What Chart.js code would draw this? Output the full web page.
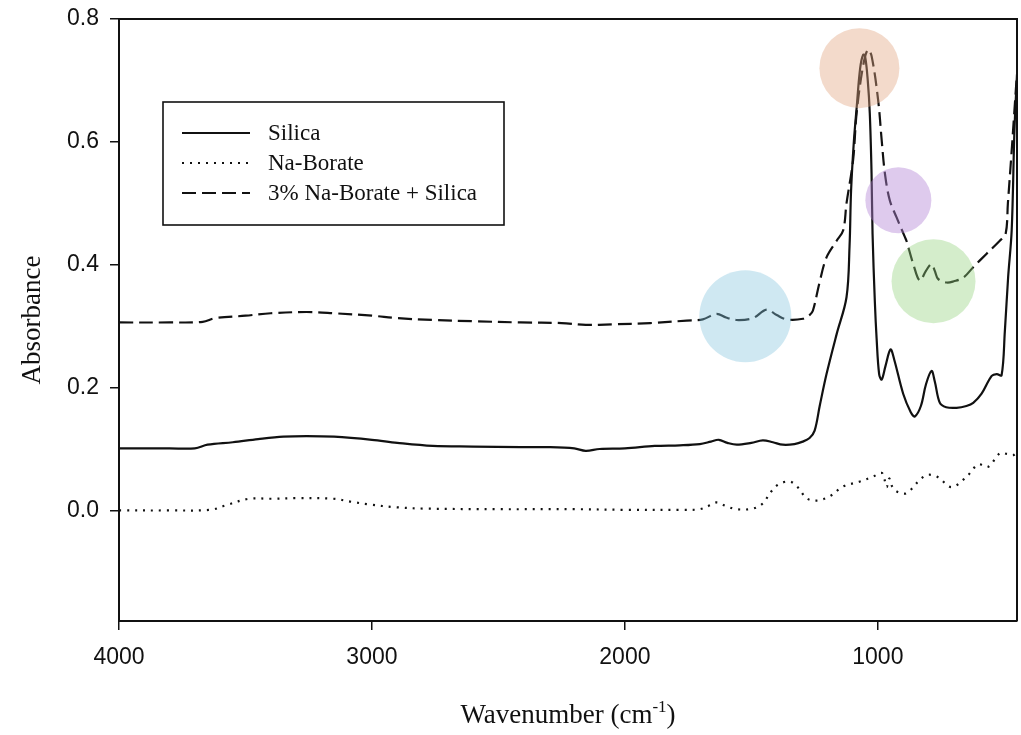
<!DOCTYPE html>
<html>
<head>
<meta charset="utf-8">
<title>FTIR spectra</title>
<script src="https://cdn.jsdelivr.net/npm/chart.js@4.4.1/dist/chart.umd.min.js"></script>
<style>
  html, body { margin: 0; padding: 0; background: #fff; }
  #wrap { width: 1021px; height: 735px; position: relative; }
</style>
</head>
<body>
<div id="wrap"><canvas id="c"></canvas></div>
<script>
// Series labels
const seriesNames = ['Silica', 'Na-Borate', '3% Na-Borate + Silica'];

// Silica spectrum (wavenumber, absorbance)
const silicaWn = [4000, 3800, 3700, 3650, 3550, 3450, 3350, 3259, 3150, 3000, 2900, 2760, 2600, 2412, 2300, 2200, 2155, 2100, 2000, 1882, 1783, 1704, 1660, 1629, 1595, 1558, 1500, 1455, 1415, 1376, 1330, 1297, 1270, 1250, 1230, 1203, 1163, 1124, 1112, 1106, 1095, 1084, 1070, 1058, 1050, 1040, 1032, 1025, 1021, 1012, 1005, 995, 985, 970, 950, 935, 900, 870, 854, 830, 810, 788, 775, 755, 730, 689, 650, 623, 590, 550, 530, 511, 498, 485, 471, 460, 450];
const silicaAbs = [0.101, 0.101, 0.101, 0.107, 0.111, 0.116, 0.120, 0.121, 0.120, 0.115, 0.110, 0.105, 0.104, 0.103, 0.103, 0.101, 0.097, 0.100, 0.101, 0.105, 0.106, 0.108, 0.112, 0.115, 0.110, 0.107, 0.110, 0.114, 0.111, 0.107, 0.108, 0.112, 0.118, 0.130, 0.170, 0.222, 0.287, 0.347, 0.430, 0.520, 0.600, 0.655, 0.720, 0.742, 0.738, 0.700, 0.647, 0.549, 0.450, 0.340, 0.280, 0.222, 0.213, 0.235, 0.262, 0.245, 0.190, 0.160, 0.153, 0.170, 0.205, 0.227, 0.210, 0.175, 0.168, 0.167, 0.170, 0.175, 0.190, 0.219, 0.222, 0.220, 0.292, 0.380, 0.456, 0.620, 0.710];

// Na-Borate spectrum
const borateWn = [4000, 3800, 3637, 3580, 3487, 3400, 3300, 3153, 3080, 3017, 2900, 2791, 2500, 2200, 2000, 1770, 1704, 1660, 1638, 1600, 1559, 1494, 1453, 1427, 1394, 1348, 1315, 1282, 1242, 1190, 1137, 1071, 1019, 985, 975, 965, 955, 945, 930, 905, 887, 860, 834, 801, 762, 709, 649, 603, 564, 518, 490, 465, 450];
const borateAbs = [0.000, 0.000, 0.001, 0.008, 0.019, 0.019, 0.020, 0.019, 0.014, 0.010, 0.005, 0.003, 0.002, 0.002, 0.001, 0.001, 0.002, 0.009, 0.013, 0.007, 0.002, 0.003, 0.012, 0.028, 0.042, 0.047, 0.037, 0.020, 0.016, 0.023, 0.039, 0.047, 0.055, 0.061, 0.052, 0.038, 0.052, 0.040, 0.032, 0.028, 0.028, 0.038, 0.050, 0.058, 0.054, 0.038, 0.055, 0.075, 0.071, 0.093, 0.092, 0.090, 0.095];

// 3% Na-Borate + Silica spectrum
const mixWn = [4000, 3800, 3669, 3620, 3500, 3400, 3259, 3150, 3000, 2900, 2760, 2600, 2412, 2250, 2155, 2050, 1900, 1756, 1692, 1638, 1600, 1559, 1494, 1440, 1400, 1361, 1296, 1270, 1257, 1229, 1203, 1163, 1137, 1124, 1098, 1084, 1060, 1040, 1025, 999, 985, 972, 953, 926, 893, 887, 860, 834, 810, 788, 775, 762, 728, 700, 662, 623, 570, 518, 495, 486, 472, 462, 452, 450];
const mixAbs = [0.306, 0.306, 0.307, 0.313, 0.317, 0.321, 0.323, 0.321, 0.317, 0.313, 0.310, 0.308, 0.306, 0.305, 0.302, 0.303, 0.305, 0.309, 0.311, 0.320, 0.314, 0.310, 0.313, 0.327, 0.318, 0.311, 0.312, 0.318, 0.325, 0.374, 0.412, 0.439, 0.456, 0.500, 0.570, 0.647, 0.720, 0.750, 0.740, 0.668, 0.603, 0.548, 0.505, 0.477, 0.445, 0.439, 0.401, 0.374, 0.390, 0.401, 0.390, 0.377, 0.371, 0.373, 0.379, 0.396, 0.418, 0.439, 0.450, 0.500, 0.580, 0.640, 0.700, 0.710];

// Axis ticks
const xTicks = [4000, 3000, 2000, 1000];
const yTicks = [0.0, 0.2, 0.4, 0.6, 0.8];

// Highlighted band regions (wavenumber, absorbance)
const bandWn = [1073, 919, 780, 1524];
const bandAbs = [0.72, 0.505, 0.373, 0.316];

const toPoints = (xs, ys) => xs.map((x, i) => ({ x: x, y: ys[i] }));

const lineStyles = [
  { dash: [], width: 2.2 },
  { dash: [2, 6], width: 2.2 },
  { dash: [14, 6], width: 2.2 }
];

const seriesData = [toPoints(silicaWn, silicaAbs), toPoints(borateWn, borateAbs), toPoints(mixWn, mixAbs)];

const datasets = seriesNames.map((name, i) => ({
  label: name,
  data: seriesData[i],
  borderColor: '#111',
  borderWidth: lineStyles[i].width,
  borderDash: lineStyles[i].dash,
  pointRadius: 0,
  fill: false,
  tension: 0.35,
  borderCapStyle: 'butt'
}));

const bandStyle = [
  { r: 40, color: 'rgba(225,164,128,0.41)' },
  { r: 33, color: 'rgba(179,133,214,0.43)' },
  { r: 42, color: 'rgba(145,209,120,0.39)' },
  { r: 46, color: 'rgba(132,197,222,0.39)' }
];

const serif = '"Liberation Serif", "Times New Roman", serif';

const decor = {
  id: 'decor',
  afterDatasetsDraw(chart) {
    const { ctx, chartArea, scales } = chart;
    ctx.save();
    // highlighted bands
    bandWn.forEach((wn, i) => {
      ctx.beginPath();
      ctx.arc(scales.x.getPixelForValue(wn), scales.y.getPixelForValue(bandAbs[i]), bandStyle[i].r, 0, Math.PI * 2);
      ctx.fillStyle = bandStyle[i].color;
      ctx.fill();
    });
    // top and right frame
    ctx.strokeStyle = '#111';
    ctx.lineWidth = 2;
    ctx.beginPath();
    ctx.moveTo(chartArea.left, chartArea.top);
    ctx.lineTo(chartArea.right, chartArea.top);
    ctx.lineTo(chartArea.right, chartArea.bottom);
    ctx.stroke();

    // legend box
    ctx.lineWidth = 1.6;
    ctx.strokeRect(163, 102, 341, 123);
    const rows = [133, 163, 193];
    ctx.font = '23px ' + serif;
    ctx.textBaseline = 'middle';
    ctx.fillStyle = '#111';
    seriesNames.forEach((name, i) => {
      ctx.setLineDash(lineStyles[i].dash);
      ctx.lineWidth = lineStyles[i].width;
      ctx.beginPath();
      ctx.moveTo(182, rows[i]);
      ctx.lineTo(250, rows[i]);
      ctx.stroke();
      ctx.setLineDash([]);
      ctx.fillText(name, 268, rows[i] + 1);
    });

    // axis titles
    ctx.textBaseline = 'alphabetic';
    const cx = (chartArea.left + chartArea.right) / 2;
    const t1 = 'Wavenumber (cm', sup = '-1', t2 = ')';
    ctx.font = '27px ' + serif;
    const w1 = ctx.measureText(t1).width, w3 = ctx.measureText(t2).width;
    ctx.font = '17px ' + serif;
    const w2 = ctx.measureText(sup).width;
    const x0 = cx - (w1 + w2 + w3) / 2;
    const base = 723;
    ctx.textAlign = 'left';
    ctx.font = '27px ' + serif;
    ctx.fillText(t1, x0, base);
    ctx.font = '17px ' + serif;
    ctx.fillText(sup, x0 + w1, base - 11);
    ctx.font = '27px ' + serif;
    ctx.fillText(t2, x0 + w1 + w2, base);

    ctx.translate(40, (chartArea.top + chartArea.bottom) / 2);
    ctx.rotate(-Math.PI / 2);
    ctx.textAlign = 'center';
    ctx.fillText('Absorbance', 0, 0);
    ctx.restore();
  }
};

new Chart(document.getElementById('c'), {
  type: 'line',
  data: { datasets: datasets },
  plugins: [decor],
  options: {
    responsive: true,
    maintainAspectRatio: false,
    animation: false,
    layout: { padding: { top: 19, right: 4, left: 0, bottom: 0 } },
    plugins: { legend: { display: false }, tooltip: { enabled: false } },
    scales: {
      x: {
        type: 'linear',
        reverse: true,
        min: 450,
        max: 4000,
        afterBuildTicks: (s) => { s.ticks = xTicks.map(v => ({ value: v })); },
        afterFit: (s) => { s.height = 114; s.paddingLeft = 0; s.paddingRight = 0; },
        border: { display: true, color: '#111', width: 2 },
        grid: { display: true, drawOnChartArea: false, drawTicks: true, tickLength: 9, color: '#111', lineWidth: 1.5 },
        ticks: { color: '#111', padding: 14, maxRotation: 0, font: { family: '"Liberation Sans", Arial, sans-serif', size: 23 }, callback: (v) => String(v) }
      },
      y: {
        type: 'linear',
        min: -0.18,
        max: 0.8,
        afterBuildTicks: (s) => { s.ticks = yTicks.map(v => ({ value: v })); },
        afterFit: (s) => { s.width = 119; s.paddingTop = 0; s.paddingBottom = 0; },
        border: { display: true, color: '#111', width: 2 },
        grid: { display: true, drawOnChartArea: false, drawTicks: true, tickLength: 9, color: '#111', lineWidth: 1.5 },
        ticks: { color: '#111', padding: 11, font: { family: '"Liberation Sans", Arial, sans-serif', size: 23 }, callback: (v) => v.toFixed(1) }
      }
    }
  }
});
</script>
</body>
</html>
